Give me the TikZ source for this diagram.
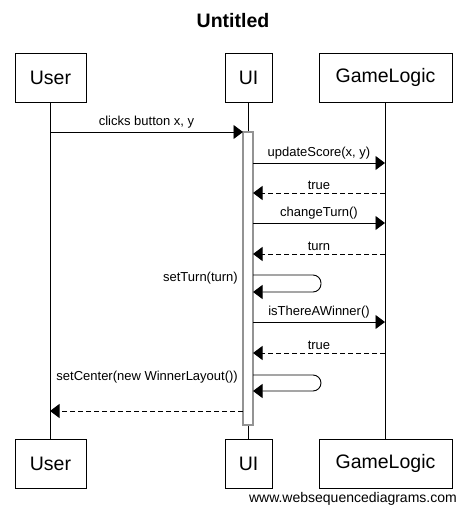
\documentclass[tikz,border=0pt]{standalone}
\usepackage{fontspec}
\setmainfont{Liberation Sans}
\usetikzlibrary{arrows.meta}
\begin{document}
\begin{tikzpicture}[x=1pt,y=-1pt,
  actor/.style={draw,line width=0.9pt,minimum height=49pt,inner sep=0pt,font=\fontsize{19.5}{22}\selectfont,fill=white},
  life/.style={line width=0.9pt},
  msg/.style={line width=0.9pt,-{Triangle[length=9.5pt,width=14pt]}},
  ret/.style={msg,dash pattern=on 5pt off 3pt},
  lbl/.style={font=\fontsize{13}{15}\selectfont,inner sep=1pt,anchor=base},
  act/.style={draw=gray!85,line width=1.4pt,fill=white}]
\useasboundingbox (0,0) rectangle (465,513);
\node[font=\bfseries\fontsize{19.5}{22}\selectfont] (title) at (233,21) {Untitled};
% top boxes
\node[actor,minimum width=71pt] (userT) at (50.5,77.5) {User};
\node[actor,minimum width=47pt] (uiT) at (248.5,77.5) {UI};
\node[actor,minimum width=133pt] (glT) at (385.5,77.5) {GameLogic};
% bottom boxes
\node[actor,minimum width=71pt] (userB) at (50.5,463.5) {User};
\node[actor,minimum width=47pt] (uiB) at (248.5,463.5) {UI};
\node[actor,minimum width=133pt] (glB) at (385.5,463.5) {GameLogic};
% lifelines
\draw[life] (userT.south) -- (userB.north);
\draw[life] (uiT.south) -- (uiB.north);
\draw[life] (glT.south) -- (glB.north);
% activation
\node[act,minimum width=10pt,minimum height=293pt,inner sep=0pt] (actbox) at (248,278.5) {};
% coordinates
\coordinate (u1) at (50,132);   \coordinate (a1) at (243,132);
\coordinate (a2) at (253,163);  \coordinate (g2) at (385,163);
\coordinate (g3) at (385,193);  \coordinate (a3) at (253,193);
\coordinate (a4) at (253,223);  \coordinate (g4) at (385,223);
\coordinate (g5) at (385,254);  \coordinate (a5) at (253,254);
\coordinate (a6) at (253,275);  \coordinate (a6e) at (253,292);
\coordinate (a7) at (253,322);  \coordinate (g7) at (385,322);
\coordinate (g8) at (385,353);  \coordinate (a8) at (253,353);
\coordinate (a9) at (253,375);  \coordinate (a9e) at (253,391);
\coordinate (a10) at (243,411); \coordinate (u10) at (50,411);
% messages
\draw[msg] (u1) -- node[lbl,above=2pt] {clicks button x, y} (a1);
\draw[msg] (a2) -- node[lbl,above=2pt] {updateScore(x, y)} (g2);
\draw[ret] (g3) -- node[lbl,above=2pt] {true} (a3);
\draw[msg] (a4) -- node[lbl,above=2pt] {changeTurn()} (g4);
\draw[ret] (g5) -- node[lbl,above=2pt] {turn} (a5);
\draw[msg,rounded corners=8pt] (a6) -- ++(68,0) -- ++(0,17) -- (a6e);
\node[font=\fontsize{13}{15}\selectfont,anchor=base east,inner sep=0pt] (l6) at (238,281) {setTurn(turn)};
\draw[msg] (a7) -- node[lbl,above=2pt] {isThereAWinner()} (g7);
\draw[ret] (g8) -- node[lbl,above=2pt] {true} (a8);
\draw[msg,rounded corners=8pt] (a9) -- ++(68,0) -- ++(0,16) -- (a9e);
\node[font=\fontsize{13}{15}\selectfont,anchor=base east,inner sep=0pt] (l9) at (238,380) {setCenter(new WinnerLayout())};
\draw[ret] (a10) -- (u10);
\node[font=\fontsize{14}{16}\selectfont,anchor=base east,inner sep=0pt] (wm) at (457,502) {www.websequencediagrams.com};
\end{tikzpicture}
\end{document}
